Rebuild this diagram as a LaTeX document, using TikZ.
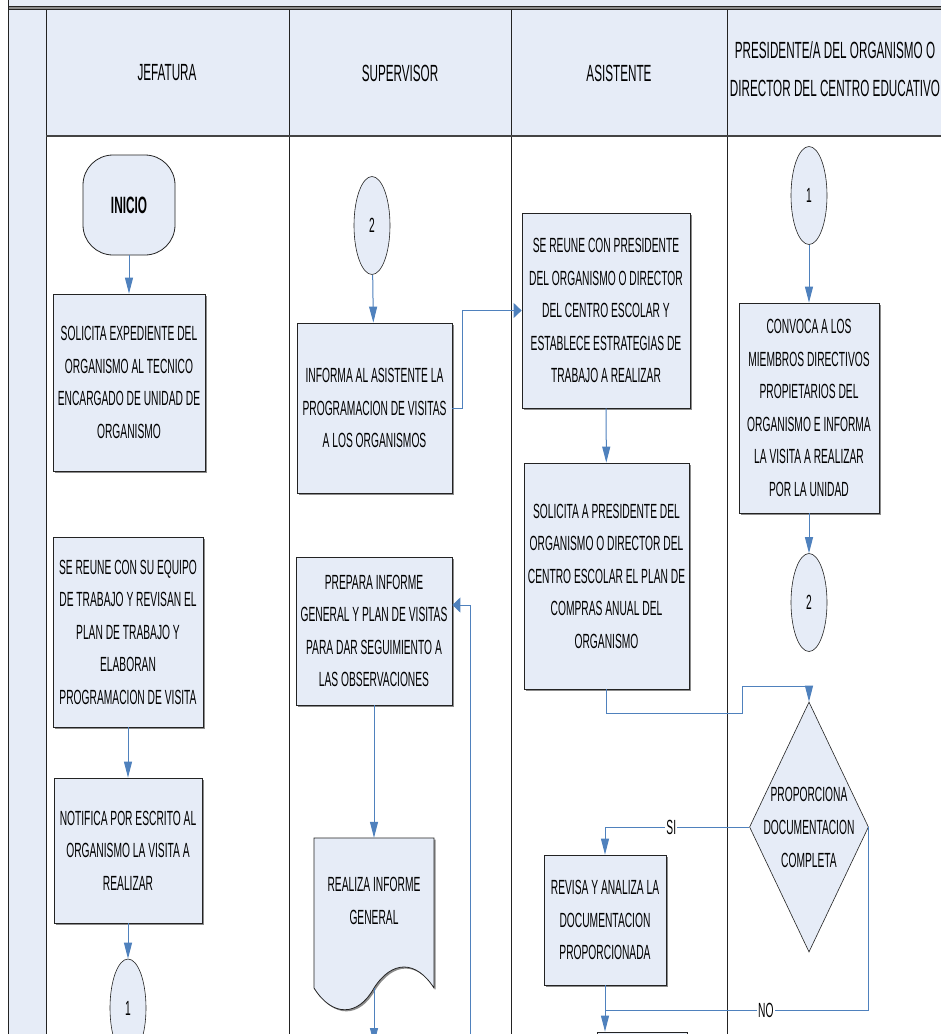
\documentclass[tikz,border=0pt]{standalone}
\usepackage{fontspec}
\setmainfont{Liberation Sans}[FakeStretch=0.5]
\usetikzlibrary{shapes.geometric,arrows.meta,shadows}
\definecolor{lanefill}{RGB}{230,236,247}
\definecolor{flow}{RGB}{79,129,189}
\definecolor{frame}{RGB}{35,35,35}

\begin{document}
\begin{tikzpicture}[x=1pt,y=-1pt,
  every node/.style={font=\fontsize{20.5}{32.5}\selectfont, inner sep=0pt},
  proc/.style={draw=frame, line width=0.8pt, fill=lanefill, align=center,
    drop shadow={shadow xshift=1.6pt,shadow yshift=-1.6pt,fill=black!45,opacity=1}},
  conn/.style={draw=frame, line width=0.6pt, fill=lanefill, ellipse,
    minimum width=36pt, minimum height=98pt},
  flowline/.style={draw=flow, line width=1pt},
  vhead/.style={flowline, -{Triangle[length=16pt,width=8pt]}},
  hhead/.style={flowline, -{Triangle[length=8pt,width=15pt]}},
  lanehead/.style={font=\fontsize{23.4}{38}\selectfont, align=center},
  tag/.style={fill=white, inner xsep=1pt, inner ysep=1pt, font=\fontsize{20.5}{24}\selectfont}
]
\useasboundingbox (0,0) rectangle (941,1034);
\clip (0,0) rectangle (941,1034);

% ---- swimlane frame ----
\fill[white] (0,0) rectangle (941,1034);
\fill[lanefill] (8,0) rectangle (941,7);
\fill[black!45] (8,6.5) rectangle (941,9.5);
\draw[frame, line width=1.4pt] (8,6.5) -- (941,6.5);
\draw[frame, line width=1.1pt] (8,9.8) -- (941,9.8);
\fill[lanefill] (8,10) rectangle (46,1034);
\fill[lanefill] (46,10) rectangle (941,136);
\draw[frame, line width=0.8pt] (8,0) -- (8,1034);
\draw[frame, line width=0.8pt] (46,10) -- (46,1034);
\draw[frame, line width=0.8pt] (289,10) -- (289,1034);
\draw[frame, line width=0.8pt] (511,10) -- (511,1034);
\draw[frame, line width=0.8pt] (727,10) -- (727,1034);
\draw[frame!85, line width=1.8pt] (46,136) -- (941,136);

% ---- lane titles ----
\node[lanehead] (hjef) at (167,73) {JEFATURA};
\node[lanehead] (hsup) at (400,73) {SUPERVISOR};
\node[lanehead] (hasi) at (619,73) {ASISTENTE};
\node[lanehead] (hpre) at (835,69) {PRESIDENTE/A DEL ORGANISMO O\\DIRECTOR DEL CENTRO EDUCATIVO};

% ---- JEFATURA ----
\node[draw=frame, line width=0.8pt, fill=lanefill, rectangle, rounded corners=30pt,
  minimum width=92pt, minimum height=100pt, font=\fontsize{23.6}{28}\selectfont\bfseries]
  (inicio) at (129,205) {INICIO};
\node[proc, minimum width=152pt, minimum height=177pt] (solicita) at (129,382.5)
  {SOLICITA EXPEDIENTE DEL\\ORGANISMO AL TECNICO\\ENCARGADO DE UNIDAD DE\\ORGANISMO};
\node[proc, minimum width=150pt, minimum height=190pt] (reune) at (128,632)
  {SE REUNE CON SU EQUIPO\\DE TRABAJO Y REVISAN EL\\PLAN DE TRABAJO Y\\ELABORAN\\PROGRAMACION DE VISITA};
\node[proc, minimum width=148pt, minimum height=145pt] (notifica) at (128,850.5)
  {NOTIFICA POR ESCRITO AL\\ORGANISMO LA VISITA A\\REALIZAR};
\node[conn] (conA) at (128,1008) {1};

% ---- SUPERVISOR ----
\node[conn] (conB) at (372,225.5) {2};
\node[proc, minimum width=155pt, minimum height=170pt] (informa) at (374.5,408)
  {INFORMA AL ASISTENTE LA\\PROGRAMACION DE VISITAS\\A LOS ORGANISMOS};
\node[proc, minimum width=156pt, minimum height=148pt] (prepara) at (374,631)
  {PREPARA INFORME\\GENERAL Y PLAN DE VISITAS\\PARA DAR SEGUIMIENTO A\\LAS OBSERVACIONES};
% document shape with wavy lower edge
\fill[black!45] (315.6,839.6) -- (435.6,839.6) -- (435.6,989.6)
  .. controls (417.6,961.6) and (393.6,961.6) .. (375.6,989.6)
  .. controls (359.6,1018.6) and (333.6,1018.6) .. (315.6,989.6) -- cycle;
\draw[frame, line width=0.8pt, fill=lanefill] (314,838) -- (434,838) -- (434,988)
  .. controls (416,960) and (392,960) .. (374,988)
  .. controls (358,1017) and (332,1017) .. (314,988) -- cycle;
\node[align=center, minimum width=120pt, minimum height=126pt] (realiza) at (374,901)
  {REALIZA INFORME\\GENERAL};
\coordinate (realizaout) at (374,988);
\coordinate (supdown) at (374,1044);
\coordinate (loopup) at (470,1040);

% ---- ASISTENTE ----
\node[proc, minimum width=168pt, minimum height=195pt] (reuneas) at (606,310.5)
  {SE REUNE CON PRESIDENTE\\DEL ORGANISMO O DIRECTOR\\DEL CENTRO ESCOLAR Y\\ESTABLECE ESTRATEGIAS DE\\TRABAJO A REALIZAR};
\node[proc, minimum width=165pt, minimum height=226pt] (pideplan) at (606.5,576)
  {SOLICITA A PRESIDENTE DEL\\ORGANISMO O DIRECTOR DEL\\CENTRO ESCOLAR EL PLAN DE\\COMPRAS ANUAL DEL\\ORGANISMO};
\node[proc, minimum width=122pt, minimum height=130pt] (revisa) at (605,920)
  {REVISA Y ANALIZA LA\\DOCUMENTACION\\PROPORCIONADA};
\node[proc, minimum width=90pt, minimum height=40pt] (siguiente) at (642,1052) {};

% ---- PRESIDENTE / DIRECTOR ----
\node[conn] (conC) at (809,195.5) {1};
\node[proc, minimum width=140pt, minimum height=210pt] (convoca) at (809,408)
  {CONVOCA A LOS\\MIEMBROS DIRECTIVOS\\PROPIETARIOS DEL\\ORGANISMO E INFORMA\\LA VISITA A REALIZAR\\POR LA UNIDAD};
\node[conn] (conD) at (809,602.5) {2};
\node[diamond, draw=frame, line width=0.6pt, fill=lanefill, minimum width=119pt,
  minimum height=250pt] (docok) at (809,827) {};
\node[align=center, font=\fontsize{20.5}{33}\selectfont] (docoktext) at (809,827)
  {PROPORCIONA\\DOCUMENTACION\\COMPLETA};

% ---- connectors ----
\draw[vhead] (inicio) -- (solicita);
\draw[vhead] (reune) -- (notifica);
\draw[vhead] (notifica) -- (conA);

\draw[vhead] (conB) -- (informa);
\draw[hhead] (informa.east) -- ++(10,0) |- (reuneas.west);
\draw[vhead] (prepara) -- (realiza);
\draw[vhead] (realizaout) -- (supdown);
\draw[hhead] (loopup) |- ([yshift=26pt]prepara.east);

\draw[vhead] (reuneas) -- (pideplan);
\draw[vhead] (pideplan.south) |- (742,713) |- (809,686) -- (docok.north);
\draw[vhead] (docok.west) -| (revisa.north) node[tag, pos=0.27] {SI};
\draw[flowline] (docok.east) |- (revisa.south |- 0,1010) node[tag, pos=0.695] {NO};
\draw[vhead] (revisa.south) -- (revisa.south |- siguiente.north);

\draw[vhead] (conC) -- (convoca);
\draw[vhead] (convoca) -- (conD);
\end{tikzpicture}
\end{document}
